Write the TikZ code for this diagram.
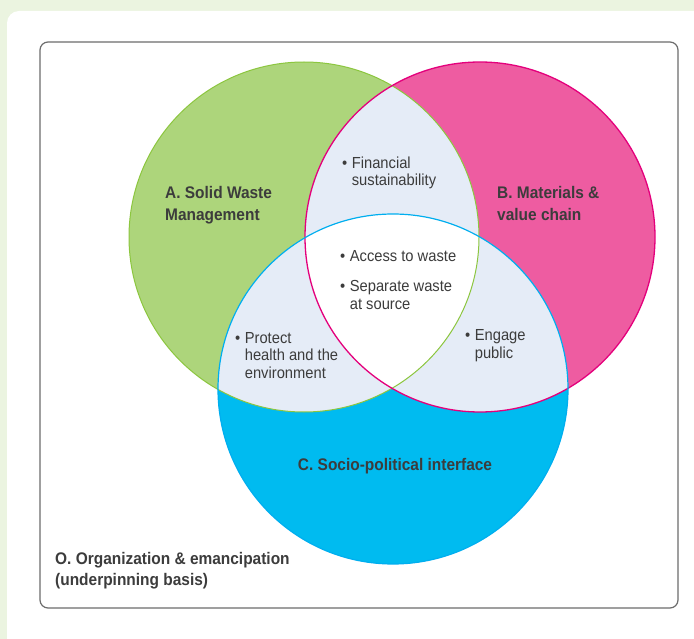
\documentclass[tikz,border=0pt]{standalone}
\usepackage{fontspec}
\setmainfont{Liberation Sans}[FakeStretch=0.92]
\definecolor{bggreen}{HTML}{EBF4E0}
\definecolor{cgreen}{HTML}{ADD57B}
\definecolor{lgreen}{HTML}{8CC63F}
\definecolor{cpink}{HTML}{EE5CA1}
\definecolor{lpink}{HTML}{E4007C}
\definecolor{cblue}{HTML}{00BBF0}
\definecolor{lblue}{HTML}{00AEEF}
\definecolor{lav}{HTML}{E5ECF7}
\definecolor{txt}{HTML}{3C3C3C}
\definecolor{frame}{HTML}{6D6D6D}
\newcommand{\bul}{\textbullet\hspace{4.5pt}}
\newcommand{\nob}{\hphantom{\textbullet\hspace{4.5pt}}}
\begin{document}
\begin{tikzpicture}[x=1pt,y=-1pt,
  lab/.style={inner sep=0pt,text=txt,align=left,font=\fontsize{16}{17.5}\selectfont},
  head/.style={inner sep=0pt,text=txt,align=left,font=\fontsize{16.8}{21.5}\selectfont\bfseries}]
\useasboundingbox (0,0) rectangle (694,639);
\clip (0,0) rectangle (694,639);
\fill[bggreen] (0,0) rectangle (694,639);
\fill[white, rounded corners=12pt] (7,11) rectangle (720,670);
\draw[frame, line width=1.2pt, rounded corners=8pt] (40,42) rectangle (678,608);
% circles
\def\circA{(304,237) circle (175)}
\def\circB{(480,237) circle (175)}
\def\circC{(393,389) circle (175)}
\fill[cgreen] \circA;
\fill[cpink] \circB;
\fill[cblue] \circC;
\begin{scope}\clip \circA; \fill[lav] \circB; \fill[lav] \circC; \end{scope}
\begin{scope}\clip \circB; \fill[lav] \circC; \end{scope}
\begin{scope}\clip \circA; \clip \circB; \fill[white] \circC; \end{scope}
\draw[lgreen, line width=1pt] \circA;
\draw[lpink, line width=1.3pt] \circB;
\draw[lblue, line width=1.2pt] \circC;
% labels (anchor base = baseline of last line)
\node[head, anchor=base west] (A) at (165,220.5) {A. Solid Waste\\Management};
\node[head, anchor=base west] (B) at (497,220.5) {B. Materials \&\\value chain};
\node[head, anchor=base] (C) at (395,470) {C. Socio-political interface};
\node[head, anchor=base west] (O) at (55,585.5) {O. Organization \& emancipation\\(underpinning basis)};
\node[lab, anchor=base west] (fin) at (342,186) {\bul Financial\\\nob sustainability};
\node[lab, anchor=base west] (acc) at (340,262) {\bul Access to waste};
\node[lab, anchor=base west] (sep) at (340,309.5) {\bul Separate waste\\\nob at source};
\node[lab, anchor=base west] (pro) at (235,378) {\bul Protect\\\nob health and the\\\nob environment};
\node[lab, anchor=base west] (eng) at (465,358.5) {\bul Engage\\\nob public};
\end{tikzpicture}
\end{document}
